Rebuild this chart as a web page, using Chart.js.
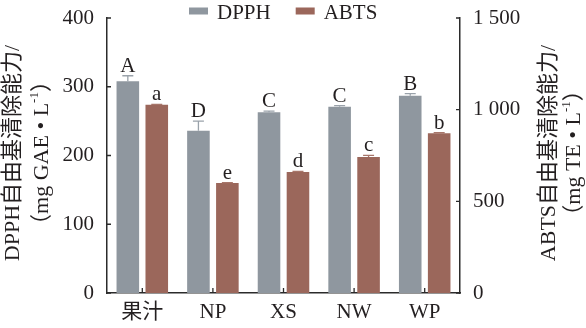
<!DOCTYPE html>
<html><head><meta charset="utf-8">
<script src="https://cdn.jsdelivr.net/npm/chart.js@4"></script>
<style>html,body{margin:0;padding:0;background:#fff}#wrap{width:586px;height:328px;position:relative}</style>
</head><body><div id="wrap"><canvas id="c"></canvas></div>
<script>
const categories = ['果汁', 'NP', 'XS', 'NW', 'WP'];
const dpph = [308, 236, 263, 271, 287];
const dpphErr = [8, 14, 1.5, 1.5, 3];
const abts = [1027, 600, 660, 742, 871];
const abtsErr = [2, 2, 3, 9, 3];
const dpphLetters = ['A', 'D', 'C', 'C', 'B'];
const abtsLetters = ['a', 'e', 'd', 'c', 'b'];
const leftTickLabels = ['0', '100', '200', '300', '400'];
const rightTickLabels = ['0', '500', '1 000', '1 500'];
const seriesNames = ['DPPH', 'ABTS'];
const leftTitle = ['DPPH自由基清除能力/', 'GAE'];
const rightTitle = ['ABTS自由基清除能力/', 'TE'];

const FONT = "'Liberation Serif','Noto Sans CJK SC',serif";
const TEXT = '#231f20';
const GRAY = '#8f979f';
const BROWN = '#9b675b';
const AXIS = '#2b2b2b';

function drawSegments(ctx, segs, size) {
  let total = 0;
  segs.forEach(s => { ctx.font = (s.sup ? Math.round(size * 0.6) : size) + 'px ' + FONT; s.w = ctx.measureText(s.t).width; total += s.w; });
  let x = -total / 2;
  segs.forEach(s => {
    ctx.font = (s.sup ? Math.round(size * 0.6) : size) + 'px ' + FONT;
    ctx.textAlign = 'left';
    ctx.textBaseline = 'alphabetic';
    ctx.fillText(s.t, x, s.sup ? size * 0.35 - size * 0.45 : size * 0.35);
    x += s.w;
  });
}

const overlay = {
  id: 'overlay',
  afterDatasetsDraw(chart) {
    const ctx = chart.ctx;
    const xs = chart.scales.x, yL = chart.scales.y, yR = chart.scales.y1;
    const ca = chart.chartArea;
    ctx.save();
    const sets = [
      { i: 0, vals: dpph, errs: dpphErr, letters: dpphLetters, sc: yL, color: '#9aa2aa' },
      { i: 1, vals: abts, errs: abtsErr, letters: abtsLetters, sc: yR, color: '#a7766a' }
    ];
    sets.forEach(s => {
      const meta = chart.getDatasetMeta(s.i);
      meta.data.forEach((bar, j) => {
        const top = s.sc.getPixelForValue(s.vals[j] + s.errs[j]);
        ctx.strokeStyle = s.color;
        ctx.lineWidth = 1.3;
        ctx.beginPath();
        ctx.moveTo(bar.x, bar.y); ctx.lineTo(bar.x, top);
        ctx.moveTo(bar.x - 5.5, top); ctx.lineTo(bar.x + 5.5, top);
        ctx.stroke();
        ctx.fillStyle = TEXT;
        ctx.font = '21px ' + FONT;
        ctx.textAlign = 'center';
        ctx.textBaseline = 'alphabetic';
        ctx.fillText(s.letters[j], bar.x, top - 4);
      });
    });
    ctx.strokeStyle = AXIS;
    ctx.lineWidth = 1.3;
    ctx.beginPath();
    yL.ticks.forEach((t, i) => { const p = yL.getPixelForTick(i); ctx.moveTo(ca.left, p); ctx.lineTo(ca.left + 4, p); });
    yR.ticks.forEach((t, i) => { const p = yR.getPixelForTick(i); ctx.moveTo(ca.right, p); ctx.lineTo(ca.right - 4, p); });
    xs.ticks.forEach((t, i) => { const p = xs.getPixelForTick(i); ctx.moveTo(p, ca.bottom); ctx.lineTo(p, ca.bottom - 5); });
    ctx.stroke();
    ctx.fillStyle = TEXT;
    const cy = 153;
    const titles = [
      { x: 11, segs: [{ t: leftTitle[0] }] },
      { x: 40, segs: [{ t: '（mg ' + leftTitle[1] + ' • L' }, { t: '-1', sup: true }, { t: '）' }] },
      { x: 547, segs: [{ t: rightTitle[0] }] },
      { x: 572, segs: [{ t: '（mg ' + rightTitle[1] + ' • L' }, { t: '-1', sup: true }, { t: '）' }] }
    ];
    titles.forEach(tt => {
      ctx.save();
      ctx.translate(tt.x, cy);
      ctx.rotate(-Math.PI / 2);
      drawSegments(ctx, tt.segs, 22);
      ctx.restore();
    });
    let lx = 189;
    const colors = [GRAY, BROWN];
    ctx.font = '21px ' + FONT;
    ctx.textAlign = 'left';
    ctx.textBaseline = 'alphabetic';
    seriesNames.forEach((n, i) => {
      ctx.fillStyle = colors[i];
      ctx.fillRect(lx, 7.5, 19, 7);
      ctx.fillStyle = TEXT;
      ctx.fillText(n, lx + 28, 18.5);
      lx += 28 + ctx.measureText(n).width + 25;
    });
    ctx.restore();
  }
};

new Chart(document.getElementById('c'), {
  type: 'bar',
  data: {
    labels: categories,
    datasets: [
      { label: seriesNames[0], data: dpph, backgroundColor: GRAY, yAxisID: 'y', categoryPercentage: 0.82, barPercentage: 0.78 },
      { label: seriesNames[1], data: abts, backgroundColor: BROWN, yAxisID: 'y1', categoryPercentage: 0.82, barPercentage: 0.78 }
    ]
  },
  options: {
    responsive: true,
    maintainAspectRatio: false,
    animation: false,
    layout: { padding: { top: 0, left: 0, right: 0, bottom: 0 } },
    plugins: { legend: { display: false }, tooltip: { enabled: false } },
    scales: {
      x: {
        grid: { display: false, drawTicks: false },
        border: { display: true, color: AXIS, width: 1.5 },
        ticks: { color: TEXT, font: { family: FONT, size: 21 }, padding: 7 },
        afterFit(s) { s.height = 35; }
      },
      y: {
        position: 'left', min: 0, max: 400,
        grid: { display: false, drawTicks: false },
        border: { display: true, color: AXIS, width: 1.5 },
        ticks: { stepSize: 100, color: TEXT, font: { family: FONT, size: 21 }, padding: 13,
          callback: (v, i) => leftTickLabels[i] },
        afterFit(s) { s.width = 107; s.paddingTop = 18; }
      },
      y1: {
        position: 'right', min: 0, max: 1500,
        grid: { display: false, drawTicks: false },
        border: { display: true, color: AXIS, width: 1.5 },
        ticks: { stepSize: 500, color: TEXT, font: { family: FONT, size: 21 }, padding: 13,
          callback: (v, i) => rightTickLabels[i] },
        afterFit(s) { s.width = 126; s.paddingTop = 18; }
      }
    }
  },
  plugins: [overlay]
});
</script>
</body></html>
